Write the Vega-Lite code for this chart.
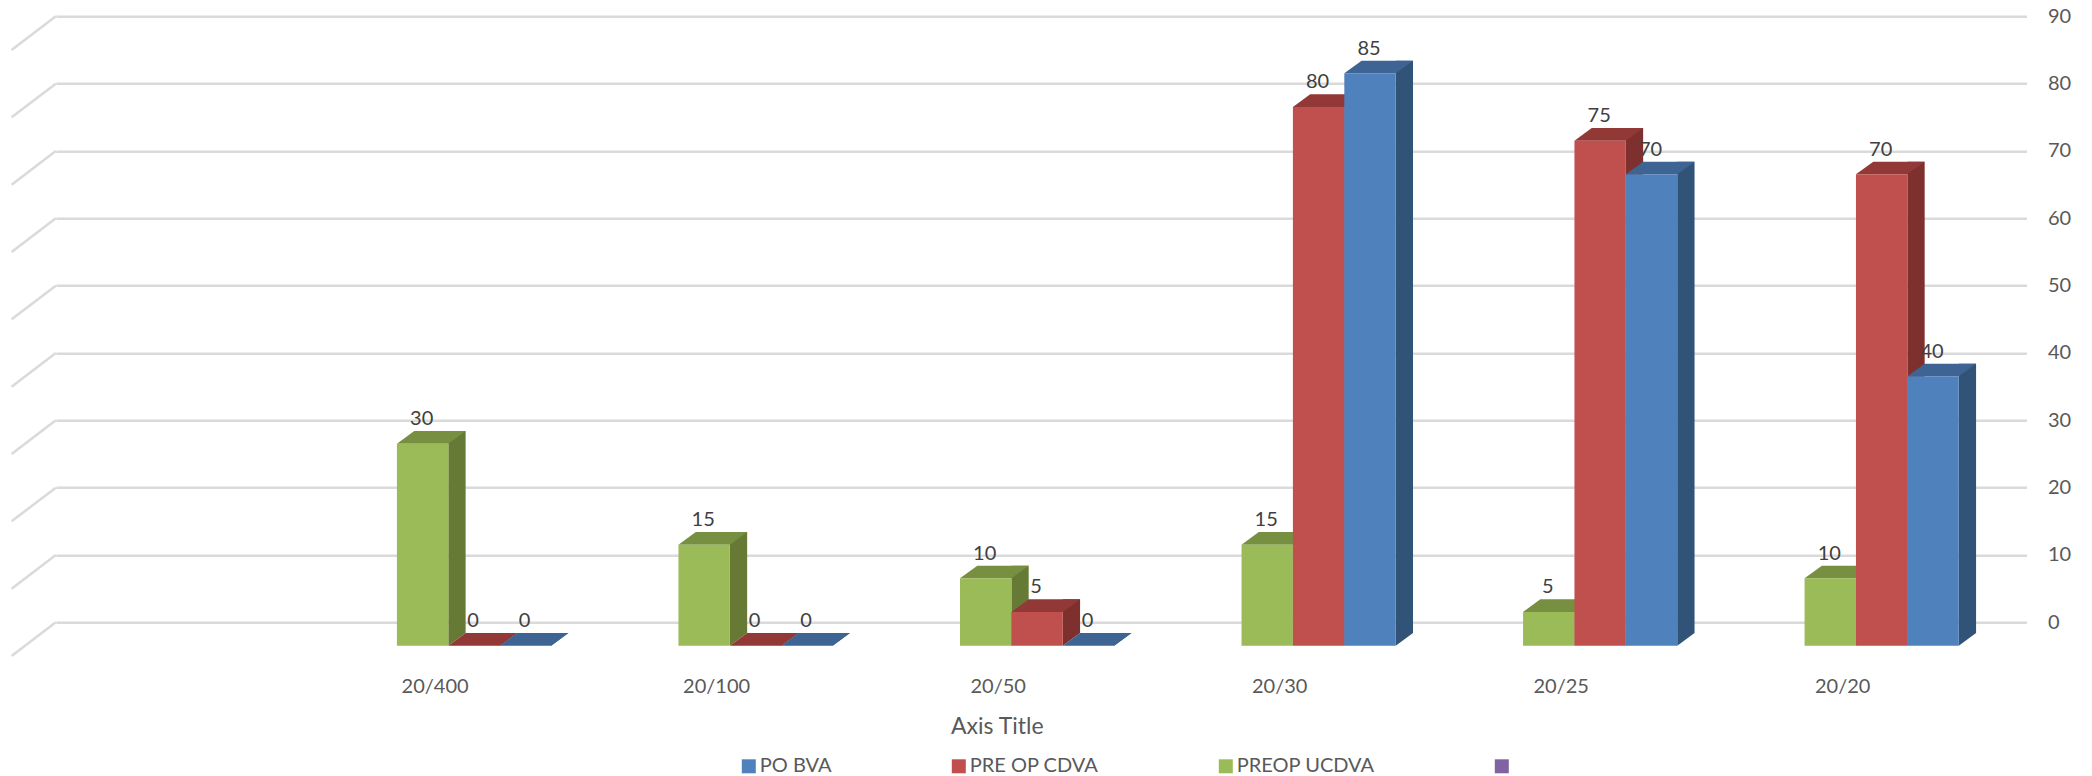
{
  "$schema": "https://vega.github.io/schema/vega-lite/v6.json",
  "width": 1970.7,
  "height": 606,
  "autosize": {"type": "none"},
  "padding": {"left": 55.8, "top": 16.3, "right": 65.5, "bottom": 153.7},
  "background": "white",
  "config": {"view": {"stroke": null}, "font": "Lato"},
  "datasets": {
    "acuity": [
      {"grade": "20/400", "series": "PREOP UCDVA", "percent": 30},
      {"grade": "20/400", "series": "PRE OP CDVA", "percent": 0},
      {"grade": "20/400", "series": "PO BVA", "percent": 0},
      {"grade": "20/100", "series": "PREOP UCDVA", "percent": 15},
      {"grade": "20/100", "series": "PRE OP CDVA", "percent": 0},
      {"grade": "20/100", "series": "PO BVA", "percent": 0},
      {"grade": "20/50", "series": "PREOP UCDVA", "percent": 10},
      {"grade": "20/50", "series": "PRE OP CDVA", "percent": 5},
      {"grade": "20/50", "series": "PO BVA", "percent": 0},
      {"grade": "20/30", "series": "PREOP UCDVA", "percent": 15},
      {"grade": "20/30", "series": "PRE OP CDVA", "percent": 80},
      {"grade": "20/30", "series": "PO BVA", "percent": 85},
      {"grade": "20/25", "series": "PREOP UCDVA", "percent": 5},
      {"grade": "20/25", "series": "PRE OP CDVA", "percent": 75},
      {"grade": "20/25", "series": "PO BVA", "percent": 70},
      {"grade": "20/20", "series": "PREOP UCDVA", "percent": 10},
      {"grade": "20/20", "series": "PRE OP CDVA", "percent": 70},
      {"grade": "20/20", "series": "PO BVA", "percent": 40}
    ],
    "ticks": [
      {"tick": 0}, {"tick": 10}, {"tick": 20}, {"tick": 30}, {"tick": 40},
      {"tick": 50}, {"tick": 60}, {"tick": 70}, {"tick": 80}, {"tick": 90}
    ]
  },
  "data": {"name": "acuity"},
  "encoding": {
    "x": {
      "field": "grade",
      "type": "nominal",
      "sort": null,
      "scale": {
        "domain": [" ", "20/400", "20/100", "20/50", "20/30", "20/25", "20/20"],
        "paddingInner": 0,
        "paddingOuter": 0
      },
      "axis": {
        "domain": false,
        "ticks": false,
        "grid": false,
        "labelAngle": 0,
        "labelOffset": -43,
        "labelPadding": 54,
        "labelFontSize": 20,
        "labelColor": "#595959",
        "title": "Axis Title",
        "titleFontSize": 23,
        "titleFontWeight": "normal",
        "titleColor": "#595959",
        "titleX": 941,
        "titleY": 104,
        "titleBaseline": "middle"
      }
    },
    "y": {
      "field": "percent",
      "type": "quantitative",
      "scale": {"domain": [0, 90], "nice": false},
      "axis": {
        "orient": "right",
        "values": [0, 10, 20, 30, 40, 50, 60, 70, 80, 90],
        "domain": false,
        "ticks": false,
        "grid": true,
        "gridColor": "#DADADA",
        "gridWidth": 2.5,
        "labelPadding": 21,
        "labelFontSize": 20,
        "labelColor": "#595959",
        "title": null
      }
    }
  },
  "layer": [
    {
      "description": "Left wall: one slanted gridline per tick, running from the back wall to the floor front",
      "data": {"name": "ticks"},
      "mark": {"type": "point", "shape": "M 0 0 L -0.442 0.337", "size": 40000, "filled": false, "stroke": "#DADADA", "strokeWidth": 2.5, "opacity": 1},
      "encoding": {
        "x": {"datum": " ", "bandPosition": 0},
        "y": {"field": "tick", "type": "quantitative"}
      }
    },
    {
      "description": "Right-hand faces of the columns, shifted past the front faces by their own offset scale",
      "mark": {"type": "bar", "width": 17.3, "yOffset": 10.7, "y2Offset": 10.7},
      "encoding": {
        "xOffset": {
          "field": "series",
          "type": "nominal",
          "scale": {"domain": ["PREOP UCDVA", "PRE OP CDVA", "PO BVA"], "range": [93.95, 248.15], "paddingInner": 0, "paddingOuter": 0}
        },
        "y2": {"datum": 0},
        "color": {
          "field": "series",
          "type": "nominal",
          "legend": null,
          "scale": {"domain": ["PREOP UCDVA", "PRE OP CDVA", "PO BVA"], "range": ["#667A35", "#7E302E", "#325378"]}
        }
      }
    },
    {
      "description": "Lower corner that closes the slant at the foot of each right-hand face",
      "mark": {"type": "point", "shape": "M 0.257 0 L 0.257 -0.127 L 0.43 -0.127 Z", "size": 40000, "filled": true, "opacity": 1, "yOffset": 23.4},
      "encoding": {
        "xOffset": {
          "field": "series",
          "type": "nominal",
          "scale": {"domain": ["PREOP UCDVA", "PRE OP CDVA", "PO BVA"], "range": [85.3, 188.1], "padding": 0}
        },
        "y": {"datum": 0},
        "color": {
          "field": "series",
          "type": "nominal",
          "legend": null,
          "scale": {"domain": ["PREOP UCDVA", "PRE OP CDVA", "PO BVA"], "range": ["#667A35", "#7E302E", "#325378"]}
        }
      }
    },
    {
      "description": "Top faces of the columns",
      "mark": {"type": "point", "shape": "M -0.257 0 L 0.257 0 L 0.43 -0.127 L -0.084 -0.127 Z", "size": 40000, "filled": true, "opacity": 1, "yOffset": 23.4},
      "encoding": {
        "xOffset": {
          "field": "series",
          "type": "nominal",
          "scale": {"domain": ["PREOP UCDVA", "PRE OP CDVA", "PO BVA"], "range": [85.3, 188.1], "padding": 0}
        },
        "color": {
          "field": "series",
          "type": "nominal",
          "legend": null,
          "scale": {"domain": ["PREOP UCDVA", "PRE OP CDVA", "PO BVA"], "range": ["#778F41", "#923937", "#3D6492"]}
        },
        "order": {"field": "series", "sort": "descending"}
      }
    },
    {
      "description": "Front faces of the columns, which also carry the legend",
      "mark": {"type": "bar", "yOffset": 23.4, "y2Offset": 23.4},
      "encoding": {
        "xOffset": {
          "field": "series",
          "type": "nominal",
          "scale": {"domain": ["PREOP UCDVA", "PRE OP CDVA", "PO BVA"], "range": [59.6, 213.8], "paddingInner": 0, "paddingOuter": 0}
        },
        "y2": {"datum": 0},
        "color": {
          "field": "series",
          "type": "nominal",
          "scale": {
            "domain": ["PO BVA", "PRE OP CDVA", "PREOP UCDVA", " "],
            "range": ["#4F81BD", "#C0504D", "#9BBB59", "#8064A2"]
          },
          "legend": {
            "title": null,
            "orient": "none",
            "legendX": 683,
            "legendY": 740,
            "direction": "horizontal",
            "columns": 4,
            "gridAlign": "none",
            "columnPadding": 117,
            "symbolType": "square",
            "symbolSize": 196,
            "symbolStrokeWidth": 0,
            "labelFontSize": 20,
            "labelColor": "#595959",
            "labelOffset": 1,
            "padding": 0
          }
        }
      }
    },
    {
      "description": "Value labels above each column",
      "mark": {"type": "text", "fontSize": 20, "baseline": "middle", "align": "center", "color": "#404040", "yOffset": -1.3, "dx": -1},
      "encoding": {
        "xOffset": {
          "field": "series",
          "type": "nominal",
          "scale": {"domain": ["PREOP UCDVA", "PRE OP CDVA", "PO BVA"], "range": [85.3, 188.1], "padding": 0}
        },
        "text": {"field": "percent", "type": "quantitative"}
      }
    }
  ],
  "resolve": {"scale": {"color": "independent", "xOffset": "independent"}}
}
